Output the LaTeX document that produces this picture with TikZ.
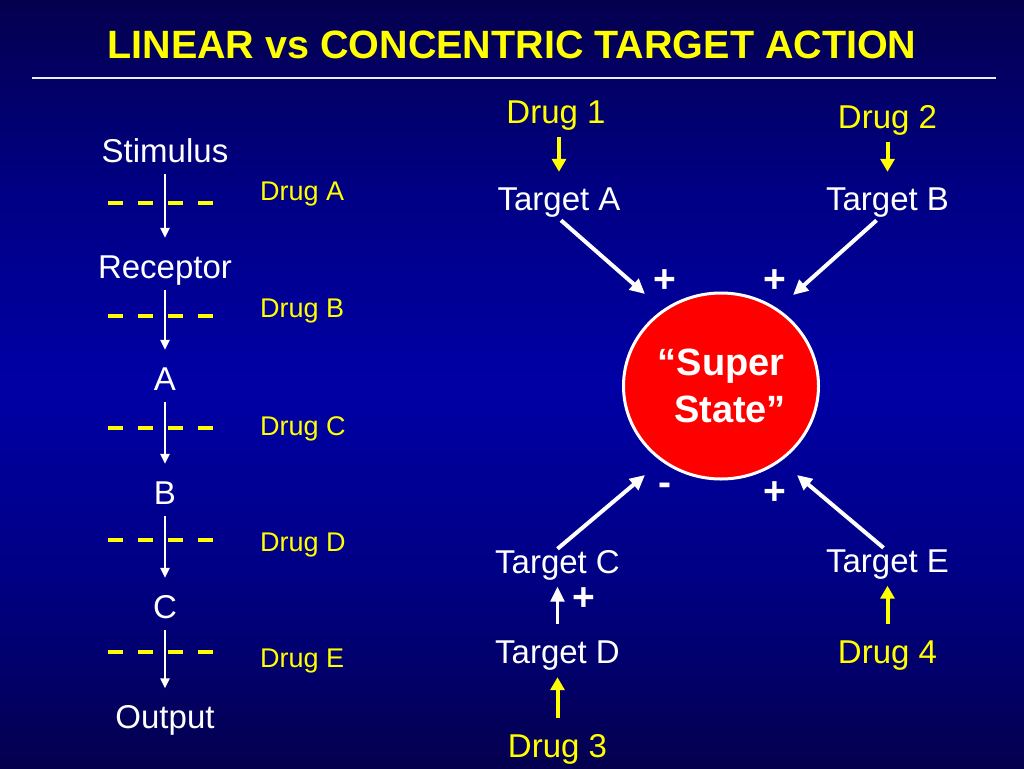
\documentclass[tikz,border=0pt]{standalone}
\usepackage{fontspec}
\setmainfont{Liberation Sans}
\usepackage{tikz}
\usetikzlibrary{arrows.meta,shapes,calc}
\definecolor{navy}{RGB}{4,0,78}
\definecolor{halfblue}{RGB}{0,0,132}
\definecolor{midblue}{RGB}{0,0,165}
\definecolor{drugyellow}{RGB}{255,255,0}
\definecolor{statered}{RGB}{255,0,0}
\pgfdeclareverticalshading{slidebg}{100bp}{color(0bp)=(navy); color(25bp)=(navy); color(37.5bp)=(halfblue); color(50bp)=(midblue); color(62.5bp)=(halfblue); color(75bp)=(navy); color(100bp)=(navy)}
\tikzstyle{titletext}=[text=drugyellow, font=\bfseries\fontsize{39.5}{46}\selectfont, inner sep=0]
\tikzstyle{stagetext}=[text=white, font=\fontsize{33}{40}\selectfont, inner sep=0, text height=24pt, text depth=7pt]
\tikzstyle{drugtext}=[stagetext, text=drugyellow]
\tikzstyle{sidedrug}=[text=drugyellow, font=\fontsize{27}{32}\selectfont, inner sep=0, text height=20pt, text depth=6pt, anchor=west]
\tikzstyle{signtext}=[text=white, font=\bfseries\fontsize{39}{40}\selectfont, inner sep=0]
\tikzstyle{stagearrow}=[white, line width=2.4pt, -{Triangle[length=10pt,width=9pt]}, shorten <=5pt, shorten >=16pt]
\tikzstyle{bigarrow}=[white, line width=4pt, -{Triangle[length=15pt,width=14pt]}]
\tikzstyle{yarrow}=[drugyellow, line width=4pt, -{Triangle[length=13pt,width=14pt]}]
\tikzstyle{downshort}=[shorten <=6pt, shorten >=14.5pt]
\tikzstyle{upshort}=[shorten <=15pt, shorten >=6.5pt]
\tikzstyle{blockdash}=[drugyellow, line width=4pt, dash pattern=on 15pt off 15pt]
\newcommand{\blocker}[4]{
	\draw[blockdash] (108,#1) -- (216,#1);
	\node[sidedrug] (#2) at (260,#3) {#4};
}

\begin{document}
\begin{tikzpicture}[x=1pt,y=-1pt]
	\useasboundingbox (0,0) rectangle (1024,768);
	\shade[shading=slidebg] (0,0) rectangle (1024,768);
	\node[titletext] (title) at (512,45) {LINEAR vs CONCENTRIC TARGET ACTION};
	\draw[white!92!blue, line width=2pt] (32,78) -- (996,78);

	% linear chain
	\node[stagetext] (stim) at (165,153.5) {Stimulus};
	\node[stagetext] (rec) at (165,269.5) {Receptor};
	\node[stagetext] (a) at (165,381.5) {A};
	\node[stagetext] (b) at (165,495.5) {B};
	\node[stagetext] (c) at (165,609.5) {C};
	\node[stagetext] (out) at (165,720) {Output};
	\blocker{203}{druga}{193}{Drug A}
	\blocker{316}{drugb}{310}{Drug B}
	\blocker{428}{drugc}{428}{Drug C}
	\blocker{540}{drugd}{544}{Drug D}
	\blocker{652}{druge}{660}{Drug E}
	\draw[stagearrow] (stim) -- (rec);
	\draw[stagearrow] (rec) -- (a);
	\draw[stagearrow] (a) -- (b);
	\draw[stagearrow] (b) -- (c);
	\draw[stagearrow] (c) -- (out);

	% concentric targets
	\node[ellipse, fill=statered, draw=white, line width=3pt, minimum width=195pt, minimum height=186pt, inner sep=0, text=white, align=center, font=\bfseries\fontsize{38}{47}\selectfont] (ss) at (721,386) {``Super\\\hspace*{18pt}State''};
	\node[drugtext] (drug1) at (556,115) {Drug 1};
	\node[drugtext] (drug2) at (887.5,120) {Drug 2};
	\node[stagetext] (tA) at (559,202) {Target A};
	\node[stagetext] (tB) at (887.5,202) {Target B};
	\node[stagetext] (tC) at (557.5,564.5) {Target C};
	\node[stagetext] (tE) at (887.5,563.5) {Target E};
	\node[stagetext] (tD) at (557.5,655) {Target D};
	\node[drugtext] (drug4) at (887.5,655) {Drug 4};
	\node[drugtext] (drug3) at (557.5,748.5) {Drug 3};
	\coordinate (inA) at (645,294);
	\coordinate (inB) at (793,295);
	\coordinate (inC) at (645,475);
	\coordinate (inE) at (797,475);
	\draw[yarrow, downshort] (drug1.south -| tA) -- (tA);
	\draw[yarrow, downshort] (drug2) -- (tB);
	\draw[yarrow, upshort] (drug3) -- (tD);
	\draw[yarrow, upshort] (drug4) -- (tE);
	\draw[bigarrow, line width=3pt, upshort] (tD) -- (tC);
	\draw[bigarrow, shorten <=4pt] ([xshift=-1pt]tA.south) -- (inA);
	\draw[bigarrow, shorten <=4pt] ([xshift=-8pt]tB.south) -- (inB);
	\draw[bigarrow] (tC.north) -- (inC);
	\draw[bigarrow] ([xshift=-4pt]tE.north) -- (inE);
	\node[signtext] (plusA) at (665,281) {+};
	\node[signtext] (plusB) at (775,281) {+};
	\node[signtext] (minusC) at (665,489) {-};
	\node[signtext] (plusE) at (775,493) {+};
	\node[signtext] (plusD) at (584,599) {+};
\end{tikzpicture}
\end{document}
